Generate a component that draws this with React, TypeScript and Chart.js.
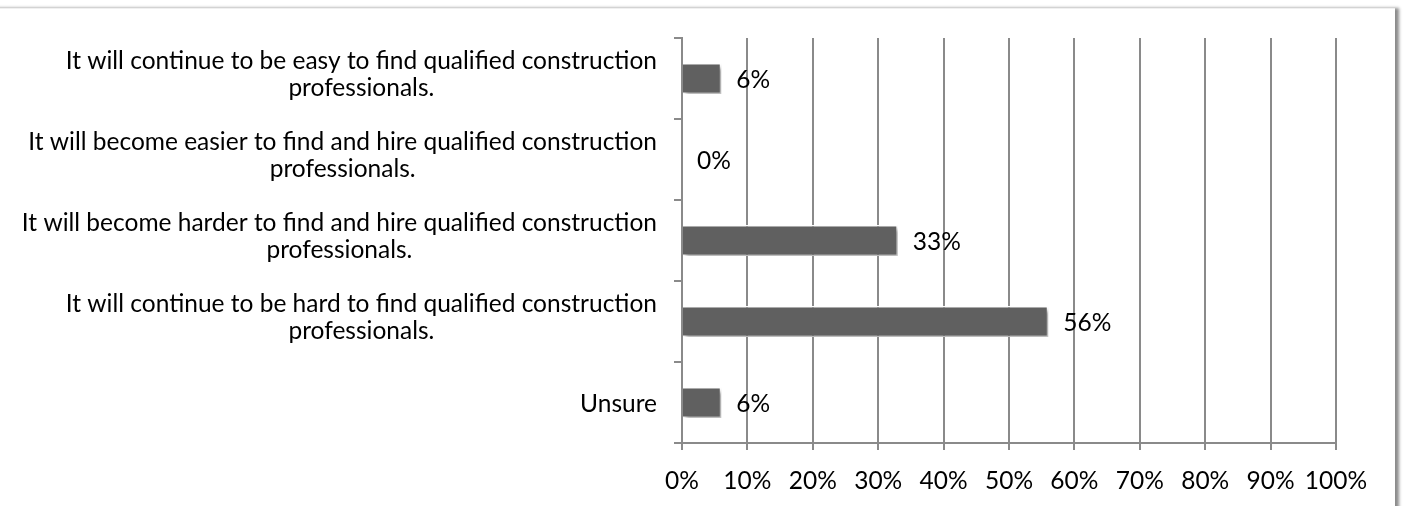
import React, { useEffect, useRef } from "react";
import { Chart, registerables } from "chart.js";

Chart.register(...registerables);

const categories: string[][] = [
  ["It will continue to be easy to find qualified construction", "professionals."],
  ["It will become easier to find and hire qualified construction", "professionals."],
  ["It will become harder to find and hire qualified construction", "professionals."],
  ["It will continue to be hard to find qualified construction", "professionals."],
  ["Unsure"],
];
const values: number[] = [6, 0, 33, 56, 6];
const valueLabels: string[] = ["6%", "0%", "33%", "56%", "6%"];

const FONT = "Lato, 'Open Sans', sans-serif";
const FONT_SIZE = 24.5;

const shadowPlugin = {
  id: "barShadow",
  beforeDatasetDraw(chart: any) {
    const ctx = chart.ctx;
    ctx.save();
    ctx.shadowColor = "rgba(0,0,0,0.35)";
    ctx.shadowOffsetX = 3;
    ctx.shadowOffsetY = 3;
    ctx.shadowBlur = 4;
  },
  afterDatasetDraw(chart: any) {
    chart.ctx.restore();
  },
};

const labelPlugin = {
  id: "valueLabels",
  afterDatasetsDraw(chart: any) {
    const ctx = chart.ctx;
    const meta = chart.getDatasetMeta(0);
    ctx.save();
    ctx.font = `${FONT_SIZE}px ${FONT}`;
    ctx.fillStyle = "#000";
    ctx.textAlign = "left";
    ctx.textBaseline = "middle";
    meta.data.forEach((bar: any, i: number) => {
      ctx.fillText(valueLabels[i], bar.x + 15, bar.y + 2);
    });
    ctx.restore();
  },
};

// Category labels: right-aligned block, lines centered within the block
const categoryLabelPlugin = {
  id: "categoryLabels",
  afterDraw(chart: any) {
    const ctx = chart.ctx;
    const y = chart.scales.y;
    const rightX = y.right - 25;
    ctx.save();
    ctx.font = `${FONT_SIZE}px ${FONT}`;
    ctx.fillStyle = "#000";
    ctx.textAlign = "center";
    ctx.textBaseline = "middle";
    categories.forEach((lines, i) => {
      const c = y.getPixelForTick(i);
      const w = Math.max(...lines.map((l) => ctx.measureText(l).width));
      const cx = rightX - w / 2;
      const n = lines.length;
      const shift = n > 1 ? -4 : 2;
      lines.forEach((line, j) => {
        ctx.fillText(line, cx, c + (j - (n - 1) / 2) * 27 + shift);
      });
    });
    ctx.restore();
  },
};

export default function App() {
  const ref = useRef<HTMLCanvasElement | null>(null);
  useEffect(() => {
    if (!ref.current) return;
    const chart = new Chart(ref.current, {
      type: "bar",
      data: {
        labels: categories,
        datasets: [
          {
            data: values,
            backgroundColor: "#606060",
            borderColor: "#ffffff",
            borderWidth: 1.5,
            barPercentage: 0.38,
            categoryPercentage: 1,
          },
        ],
      },
      options: {
        indexAxis: "y",
        responsive: false,
        animation: false,
        layout: { padding: { top: 38, right: 72, left: 0, bottom: 0 } },
        plugins: { legend: { display: false }, tooltip: { enabled: false } },
        scales: {
          x: {
            min: 0,
            max: 100,
            ticks: {
              stepSize: 10,
              autoSkip: false,
              callback: (v: any) => `${v}%`,
              color: "#000",
              font: { family: FONT, size: FONT_SIZE },
              padding: 16,
              maxRotation: 0,
            },
            grid: {
              color: "#8a8a8a",
              lineWidth: 2,
              drawOnChartArea: true,
              drawTicks: true,
              tickLength: 7,
            },
            border: { color: "#8a8a8a", width: 2 },
            afterFit: (s: any) => {
              s.height = 63;
            },
          },
          y: {
            ticks: {
              color: "rgba(0,0,0,0)",
              font: { family: FONT, size: FONT_SIZE, lineHeight: 1.1 },
              padding: 17,
              crossAlign: "near",
            },
            grid: {
              color: "#8a8a8a",
              lineWidth: 2,
              drawOnChartArea: false,
              drawTicks: true,
              tickLength: 8,
              offset: true,
            },
            border: { color: "#8a8a8a", width: 2 },
            afterFit: (s: any) => {
              s.width = 682;
            },
          },
        },
      },
      plugins: [shadowPlugin, labelPlugin, categoryLabelPlugin],
    });
    return () => chart.destroy();
  }, []);

  return (
    <div style={{ position: "fixed", left: 0, top: 0, width: 1408, height: 506, background: "#fff", overflow: "hidden" }}>
      <div
        style={{
          position: "absolute",
          left: -10,
          top: 8,
          width: 1405,
          height: 520,
          background: "#fff",
          borderTop: "1px solid #f0f0f0",
          boxShadow: "4px 0 3px rgba(0,0,0,0.45)",
        }}
      />
      <canvas ref={ref} width={1408} height={506} style={{ position: "absolute", left: 0, top: 0 }} />
    </div>
  );
}
